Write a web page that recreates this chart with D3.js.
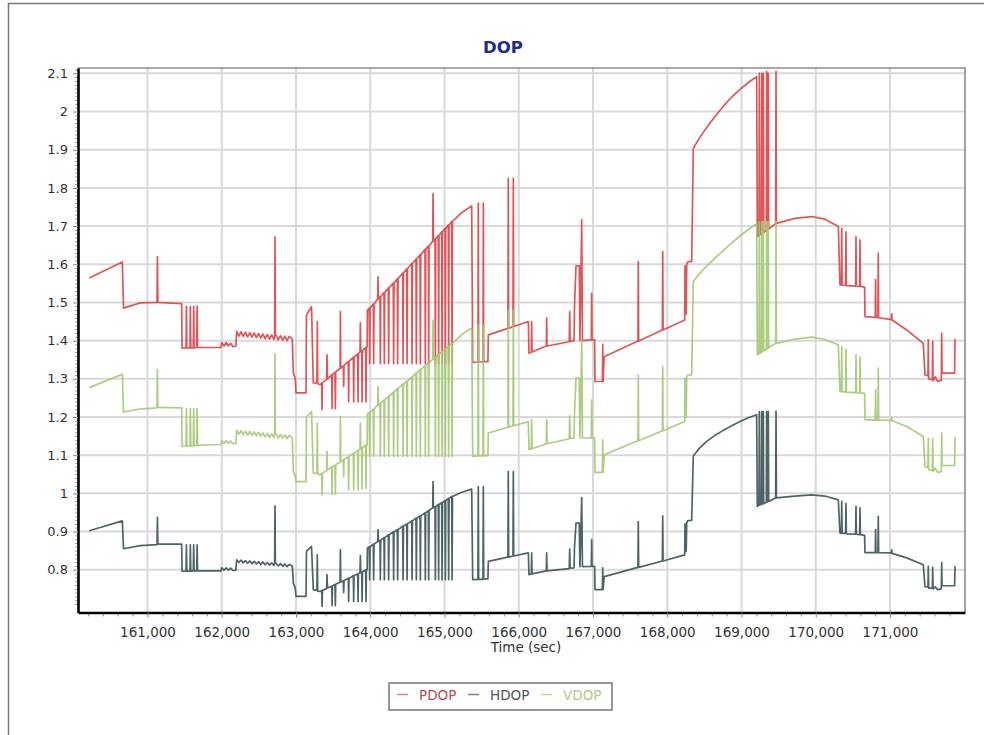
<!DOCTYPE html>
<html><head><meta charset="utf-8">
<script src="https://cdn.jsdelivr.net/npm/d3@7"></script>
<style>
body{margin:0;background:#fff}
svg{display:block}
text{font-family:"DejaVu Sans",Verdana,sans-serif}
</style>
</head><body>
<svg id="c" width="984" height="735"></svg>
<script>
// ---- data (time in seconds, DOP values) ----
const seriesNames = ["PDOP", "HDOP", "VDOP"];
const xTicks = [161000,162000,163000,164000,165000,166000,167000,168000,169000,170000,171000];
const yTicks = [0.8,0.9,1.0,1.1,1.2,1.3,1.4,1.5,1.6,1.7,1.8,1.9,2.0,2.1];

const time = [
  160216,160661,160677,160900,161128,161134,161140,161460,
  161466,161519,161524,161530,161572,161577,161583,161617,161622,161628,161663,161668,161674,161990,
  162000,162030,162060,162090,162120,162150,162190,
  162201,162230,162260,162289,162319,162348,162378,162407,162437,162466,162496,162525,162555,162584,162614,162643,162673,162702,162712,162717,162722,162732,162761,162791,162820,162850,162879,162909,162950,
  162964,162990,163000,163135,163141,163209,163233,163282,163287,163292,163323,
  163346,163351,163356,163413,163418,163423,163481,163486,163491,163525,163530,163535,163593,163598,163603,163637,163642,163647,163704,163709,163714,163772,163777,163782,163831,163836,163841,163862,163867,163872,163885,163890,163895,163938,163943,163948,163958,
  163962,163987,163992,163997,164041,164046,164051,164100,164105,164110,164131,164136,164141,164185,164190,164195,164243,164248,164253,164310,164315,164320,164364,164369,164374,164437,164442,164447,164491,164496,164501,164558,164563,164568,164616,164621,164626,164670,164675,164680,164737,164742,164747,164782,164787,164792,164841,164846,164851,164872,164877,164882,164916,164921,164926,164962,164967,164972,165007,165012,165017,165051,165056,165061,165097,165102,165107,
  165231,165366,165380,165450,165455,165460,165518,165523,165528,165585,165590,165854,165859,165864,165922,165927,165932,166129,166138,166169,166174,166179,166371,166376,166381,166680,166686,166692,166745,166751,166771,166815,166824,166848,166858,166977,166982,166987,167022,167027,167126,167131,167136,167150,167605,167610,167615,167934,167939,167944,168235,168239,168255,168262,168279,168329,168351,168441,168531,168643,168755,168868,168980,169092,169204,
  169213,169235,169240,169245,169267,169272,169277,169289,169294,169299,169334,169339,169344,169356,169361,169366,169460,169465,169470,169720,169945,170124,170304,
  170326,170345,170350,170355,170402,170407,170412,170537,170542,170547,170591,170596,170601,170658,170663,170801,170806,170811,170837,170842,170847,171018,171023,171028,171225,171448,171471,171511,171516,171521,171570,171575,171580,171610,171640,171691,171696,171701,171870,171876
];

const pdop = [
  1.564,1.606,1.485,1.499,1.500,1.620,1.500,1.497,
  1.380,1.381,1.490,1.381,1.381,1.490,1.381,1.381,1.490,1.381,1.382,1.490,1.382,1.382,
  1.395,1.386,1.395,1.386,1.393,1.384,1.386,
  1.424,1.412,1.423,1.411,1.422,1.410,1.421,1.409,1.420,1.408,1.419,1.407,1.417,1.405,1.416,1.404,1.415,1.403,1.414,1.672,1.414,1.414,1.402,1.413,1.401,1.412,1.400,1.411,1.404,
  1.316,1.300,1.263,1.263,1.467,1.489,1.289,1.289,1.450,1.287,1.285,
  1.289,1.219,1.290,1.299,1.363,1.300,1.310,1.222,1.311,1.317,1.222,1.318,1.327,1.476,1.328,1.334,1.280,1.335,1.345,1.240,1.346,1.356,1.240,1.357,1.365,1.240,1.366,1.370,1.447,1.371,1.373,1.240,1.374,1.382,1.240,1.383,1.384,
  1.480,1.485,1.340,1.485,1.496,1.340,1.496,1.509,1.567,1.509,1.515,1.340,1.515,1.526,1.340,1.526,1.538,1.340,1.538,1.551,1.340,1.551,1.562,1.340,1.562,1.577,1.340,1.577,1.588,1.340,1.588,1.602,1.340,1.602,1.614,1.340,1.614,1.625,1.340,1.625,1.639,1.340,1.639,1.648,1.340,1.648,1.660,1.785,1.660,1.666,1.340,1.666,1.675,1.340,1.675,1.685,1.340,1.685,1.694,1.340,1.694,1.703,1.340,1.703,1.712,1.340,1.712,
  1.735,1.753,1.343,1.344,1.760,1.344,1.344,1.760,1.345,1.345,1.415,1.432,1.825,1.432,1.437,1.825,1.437,1.450,1.367,1.370,1.450,1.370,1.386,1.459,1.386,1.397,1.476,1.398,1.400,1.490,1.596,1.596,1.400,1.716,1.400,1.402,1.524,1.402,1.402,1.293,1.293,1.390,1.293,1.358,1.399,1.607,1.399,1.428,1.633,1.428,1.454,1.596,1.470,1.600,1.607,1.607,1.904,1.933,1.958,1.987,2.014,2.038,2.058,2.076,2.091,
  1.672,1.676,2.100,1.676,1.680,2.100,1.680,1.683,2.100,1.683,1.689,2.105,1.689,1.692,2.100,1.692,1.707,2.105,1.707,1.720,1.725,1.718,1.699,
  1.546,1.546,1.694,1.545,1.545,1.685,1.544,1.543,1.672,1.543,1.542,1.664,1.542,1.540,1.463,1.461,1.560,1.461,1.460,1.629,1.460,1.455,1.470,1.454,1.428,1.393,1.310,1.308,1.402,1.300,1.298,1.398,1.295,1.305,1.293,1.296,1.419,1.315,1.315,1.404
];

const hdop = [
  0.902,0.928,0.855,0.863,0.866,0.937,0.867,0.867,
  0.796,0.796,0.865,0.796,0.796,0.865,0.796,0.797,0.865,0.797,0.797,0.865,0.797,0.797,
  0.805,0.799,0.805,0.799,0.804,0.798,0.799,
  0.826,0.819,0.825,0.818,0.824,0.817,0.823,0.816,0.822,0.815,0.821,0.814,0.820,0.813,0.819,0.812,0.818,0.811,0.818,0.967,0.818,0.817,0.810,0.816,0.809,0.815,0.808,0.814,0.810,
  0.765,0.752,0.730,0.730,0.848,0.861,0.748,0.746,0.839,0.744,0.743,
  0.745,0.704,0.746,0.751,0.787,0.752,0.757,0.706,0.758,0.761,0.706,0.762,0.767,0.852,0.768,0.771,0.740,0.772,0.778,0.717,0.778,0.784,0.717,0.785,0.789,0.717,0.790,0.792,0.837,0.792,0.794,0.717,0.795,0.799,0.717,0.800,0.800,
  0.857,0.860,0.774,0.860,0.867,0.774,0.867,0.874,0.905,0.874,0.877,0.774,0.877,0.884,0.774,0.884,0.891,0.774,0.891,0.899,0.774,0.899,0.905,0.774,0.905,0.914,0.774,0.914,0.920,0.774,0.920,0.928,0.774,0.928,0.935,0.774,0.935,0.941,0.774,0.941,0.949,0.774,0.949,0.955,0.774,0.955,0.962,1.031,0.962,0.965,0.774,0.965,0.971,0.774,0.971,0.976,0.774,0.976,0.981,0.774,0.981,0.987,0.774,0.987,0.992,0.774,0.992,
  1.003,1.011,0.774,0.775,1.018,0.775,0.775,1.018,0.776,0.776,0.822,0.833,1.057,0.833,0.836,1.057,0.836,0.844,0.787,0.789,0.844,0.789,0.797,0.844,0.797,0.803,0.854,0.804,0.805,0.860,0.922,0.922,0.808,0.989,0.808,0.809,0.879,0.809,0.809,0.748,0.748,0.805,0.748,0.782,0.806,0.926,0.806,0.823,0.941,0.823,0.839,0.920,0.848,0.923,0.929,0.929,1.098,1.120,1.136,1.152,1.165,1.177,1.188,1.198,1.206,
  0.966,0.969,1.214,0.969,0.972,1.214,0.972,0.973,1.214,0.973,0.977,1.214,0.977,0.979,1.214,0.979,0.988,1.215,0.988,0.993,0.996,0.993,0.983,
  0.896,0.896,0.979,0.895,0.895,0.973,0.894,0.893,0.966,0.893,0.892,0.962,0.892,0.890,0.845,0.845,0.905,0.845,0.845,0.940,0.845,0.844,0.852,0.843,0.831,0.813,0.756,0.755,0.809,0.752,0.752,0.806,0.750,0.755,0.748,0.750,0.819,0.758,0.758,0.809
];

const vdop = [
  1.277,1.312,1.213,1.221,1.224,1.325,1.225,1.224,
  1.123,1.124,1.222,1.124,1.124,1.222,1.124,1.125,1.222,1.125,1.126,1.222,1.126,1.128,
  1.138,1.131,1.138,1.131,1.137,1.130,1.131,
  1.165,1.155,1.164,1.154,1.163,1.153,1.162,1.152,1.161,1.151,1.160,1.150,1.158,1.148,1.157,1.147,1.156,1.146,1.155,1.365,1.155,1.155,1.145,1.154,1.144,1.153,1.143,1.152,1.146,
  1.057,1.045,1.031,1.031,1.200,1.214,1.053,1.052,1.184,1.050,1.049,
  1.052,0.996,1.053,1.060,1.110,1.061,1.069,0.998,1.070,1.074,0.998,1.075,1.082,1.201,1.083,1.088,1.044,1.089,1.096,1.009,1.097,1.105,1.009,1.106,1.112,1.009,1.113,1.116,1.184,1.117,1.119,1.012,1.120,1.126,1.014,1.127,1.127,
  1.208,1.212,1.097,1.212,1.221,1.097,1.221,1.231,1.280,1.231,1.236,1.097,1.236,1.245,1.097,1.245,1.254,1.097,1.254,1.265,1.097,1.265,1.274,1.097,1.274,1.286,1.097,1.286,1.294,1.097,1.294,1.305,1.097,1.305,1.315,1.097,1.315,1.324,1.097,1.324,1.334,1.097,1.334,1.342,1.097,1.342,1.351,1.454,1.351,1.356,1.097,1.356,1.364,1.097,1.364,1.371,1.097,1.371,1.378,1.097,1.378,1.386,1.097,1.386,1.393,1.097,1.393,
  1.416,1.433,1.097,1.098,1.441,1.098,1.098,1.441,1.099,1.099,1.158,1.173,1.480,1.173,1.177,1.480,1.177,1.188,1.114,1.117,1.193,1.117,1.130,1.193,1.130,1.143,1.203,1.144,1.145,1.212,1.302,1.302,1.145,1.402,1.145,1.145,1.245,1.145,1.145,1.055,1.055,1.140,1.055,1.101,1.138,1.310,1.138,1.164,1.332,1.164,1.188,1.302,1.200,1.305,1.310,1.310,1.555,1.577,1.595,1.616,1.636,1.656,1.674,1.691,1.706,
  1.363,1.366,1.712,1.366,1.370,1.712,1.370,1.373,1.712,1.373,1.378,1.712,1.378,1.381,1.712,1.381,1.393,1.712,1.393,1.404,1.409,1.403,1.389,
  1.267,1.267,1.384,1.266,1.266,1.378,1.265,1.264,1.363,1.264,1.263,1.357,1.263,1.262,1.193,1.192,1.271,1.192,1.192,1.328,1.192,1.191,1.198,1.190,1.175,1.149,1.070,1.068,1.145,1.062,1.060,1.143,1.057,1.066,1.055,1.057,1.158,1.073,1.073,1.148
];

const seriesColors = ["#dc4447", "#3c5357", "#a4c874"];
const legendTextColors = ["#b84c56", "#4a545c", "#b3c78f"];

// ---- drawing ----
if (![pdop, hdop, vdop].every(a => a.length === time.length)) console.error("length mismatch", time.length, pdop.length, hdop.length, vdop.length);

const svg = d3.select("#c");
const P = {l: 78, r: 965, t: 68, b: 612.5};
const x = d3.scaleLinear().domain([160064, 172010]).range([P.l, P.r]);
const y = d3.scaleLinear().domain([0.688, 2.114]).range([P.b, P.t]);

svg.append("rect").attr("width", 984).attr("height", 735).attr("fill", "#fff");
// outer frame (left and top visible)
svg.append("path").attr("d", "M8.5,735V3.5H984").attr("fill", "none").attr("stroke", "#7a7a7a").attr("stroke-width", 1.5);

// grid
const grid = svg.append("g");
grid.selectAll(".gx").data(xTicks).join("line")
  .attr("x1", d => x(d)).attr("x2", d => x(d)).attr("y1", P.t).attr("y2", P.b)
  .attr("stroke", "#d9d9d9").attr("stroke-width", 2);
grid.selectAll(".gy").data(yTicks).join("line")
  .attr("x1", P.l).attr("x2", P.r).attr("y1", d => y(d)).attr("y2", d => y(d))
  .attr("stroke", "#d9d9d9").attr("stroke-width", 2);

// plot border (top & right)
svg.append("path").attr("d", `M${P.l},${P.t}H${P.r}V${P.b}`).attr("fill", "none").attr("stroke", "#8c8c8c").attr("stroke-width", 1.6);

// series
svg.append("defs").append("clipPath").attr("id", "clip").append("rect")
  .attr("x", P.l).attr("y", P.t).attr("width", P.r - P.l).attr("height", P.b - P.t);
const idx = d3.range(time.length);
const lines = svg.append("g").attr("clip-path", "url(#clip)");
[pdop, hdop, vdop].forEach((vals, k) => {
  const line = d3.line().x(i => x(time[i])).y(i => y(vals[i]));
  lines.append("path").attr("d", line(idx)).attr("fill", "none")
    .attr("stroke", seriesColors[k]).attr("stroke-width", 1.7)
    .attr("stroke-opacity", 0.9).attr("stroke-linejoin", "round");
});

// minor ticks
const minorX = d3.range(160200, 172001, 200).filter(v => v % 1000 !== 0);
svg.append("g").attr("transform", `translate(0,${P.b})`)
  .call(d3.axisBottom(x).tickValues(minorX).tickSize(4).tickFormat("").tickSizeOuter(0))
  .call(g => g.select(".domain").remove())
  .call(g => g.selectAll("line").attr("stroke", "#999"));
const minorY = d3.range(70, 212).map(v => v / 100).filter(v => Math.round(v * 100) % 10 !== 0);
svg.append("g").attr("transform", `translate(${P.l},0)`)
  .call(d3.axisLeft(y).tickValues(minorY).tickSize(3).tickFormat("").tickSizeOuter(0))
  .call(g => g.select(".domain").remove())
  .call(g => g.selectAll("line").attr("stroke", "#aaa"));

// axes
const xAxis = svg.append("g").attr("transform", `translate(0,${P.b})`)
  .call(d3.axisBottom(x).tickValues(xTicks).tickFormat(d3.format(",")).tickSize(5).tickPadding(10).tickSizeOuter(0));
xAxis.select(".domain").attr("stroke", "#000").attr("stroke-width", 2.6);
xAxis.selectAll(".tick line").attr("stroke", "#888");
xAxis.selectAll("text").attr("font-size", 13.5).attr("fill", "#333").attr("font-family", "DejaVu Sans");

const yAxis = svg.append("g").attr("transform", `translate(${P.l},0)`)
  .call(d3.axisLeft(y).tickValues(yTicks).tickFormat(d => String(+d.toFixed(1))).tickSize(5).tickPadding(5).tickSizeOuter(0));
yAxis.select(".domain").attr("stroke", "#000").attr("stroke-width", 2.6);
yAxis.selectAll(".tick line").attr("stroke", "#888");
yAxis.selectAll("text").attr("font-size", 13).attr("fill", "#333").attr("font-family", "DejaVu Sans");

// titles
svg.append("text").attr("x", 503).attr("y", 53).attr("text-anchor", "middle")
  .attr("font-size", 16.5).attr("font-weight", "bold").attr("fill", "#1f2d86").text("DOP");
svg.append("text").attr("x", 526).attr("y", 652).attr("text-anchor", "middle")
  .attr("font-size", 13.5).attr("fill", "#333").text("Time (sec)");

// legend
const lg = svg.append("g");
lg.append("rect").attr("x", 389).attr("y", 683).attr("width", 223).attr("height", 27)
  .attr("fill", "#fff").attr("stroke", "#7d7d7d").attr("stroke-width", 1.6);
const lx = [397, 468, 541];
seriesNames.forEach((n, k) => {
  lg.append("line").attr("x1", lx[k]).attr("x2", lx[k] + 11).attr("y1", 694.5).attr("y2", 694.5)
    .attr("stroke", seriesColors[k]).attr("stroke-width", 1.5).attr("stroke-opacity", 0.7);
  lg.append("text").attr("x", lx[k] + 22).attr("y", 699.5).attr("font-size", 13.5)
    .attr("fill", legendTextColors[k]).text(n);
});
</script>
</body></html>
